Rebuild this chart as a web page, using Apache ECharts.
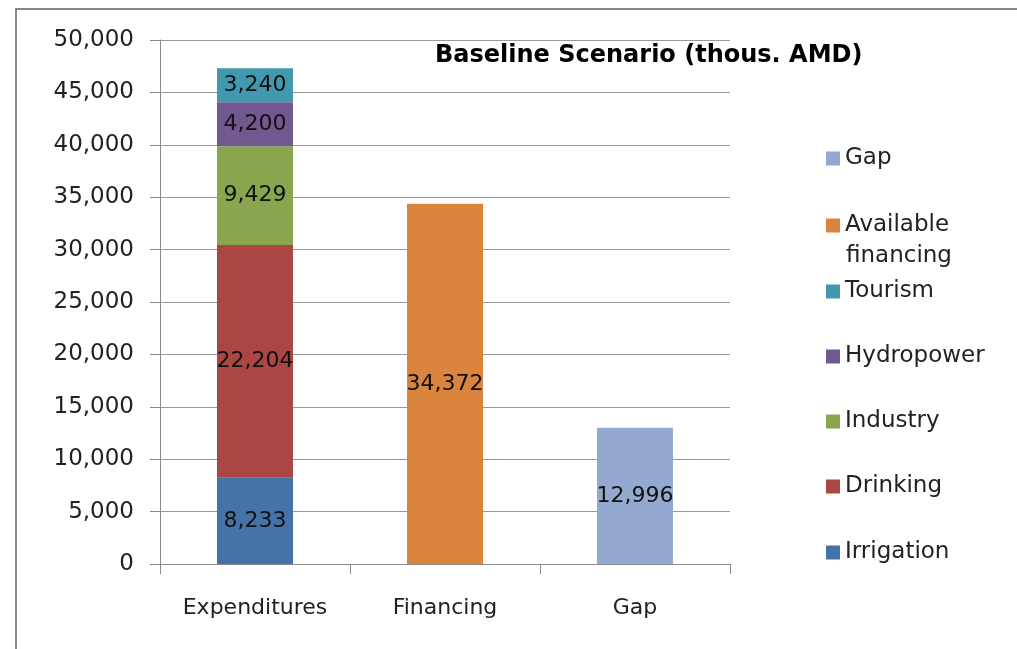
<!DOCTYPE html>
<html>
<head>
<meta charset="utf-8">
<script src="https://cdn.jsdelivr.net/npm/echarts@6/dist/echarts.min.js"></script>
<style>
  html, body { margin: 0; padding: 0; background: #fff; }
  #chart { width: 1017px; height: 649px; }
</style>
</head>
<body>
<div id="chart"></div>
<script>
const categories = ['Expenditures', 'Financing', 'Gap']
const irrigation = [8233, null, null]
const drinking = [22204, null, null]
const industry = [9429, null, null]
const hydropower = [4200, null, null]
const tourism = [3240, null, null]
const availableFinancing = [null, 34372, null]
const gap = [null, null, 12996]

const font = 'DejaVu Sans'
const chart = echarts.init(document.getElementById('chart'))

function seg(name, data, color) {
  return {
    name: name,
    type: 'bar',
    stack: 'Total',
    barWidth: '40%',
    itemStyle: { color: color },
    label: {
      show: true,
      position: 'inside',
      color: '#111',
      fontFamily: font,
      fontSize: 22,
      formatter: p => p.value == null ? '' : p.value.toLocaleString('en-US')
    },
    data: data
  }
}

// one legend per item so the spacing follows the original
const legendItems = [
  ['Gap', 142],
  ['Available financing', 209],
  ['Tourism', 275],
  ['Hydropower', 340],
  ['Industry', 405],
  ['Drinking', 470],
  ['Irrigation', 536]
]

const option = {
  animation: false,
  title: {
    text: 'Baseline Scenario (thous. AMD)',
    left: 430,
    top: 39,
    textStyle: { fontFamily: font, fontSize: 24, fontWeight: 'bold', color: '#000' }
  },
  graphic: [{
    type: 'rect',
    shape: { x: 16, y: 9, width: 1100, height: 700 },
    style: { fill: null, stroke: '#868686', lineWidth: 2 }
  }, {
    type: 'text',
    left: 846,
    top: 245,
    style: { text: 'financing', font: '23px "DejaVu Sans"', fill: '#222' }
  }],
  legend: legendItems.map(([n, top]) => ({
    data: [n],
    left: 821,
    top: top,
    itemWidth: 14,
    itemHeight: 14,
    icon: 'rect',
    formatter: s => s === 'Available financing' ? 'Available' : s,
    textStyle: { fontFamily: font, fontSize: 23, color: '#222' }
  })),
  grid: { left: 160, right: 287, top: 40, bottom: 85 },
  xAxis: {
    type: 'category',
    data: categories,
    axisLine: { lineStyle: { color: '#888' } },
    axisTick: { show: true, length: 10, lineStyle: { color: '#888' } },
    axisLabel: { fontFamily: font, fontSize: 22, color: '#222', margin: 33 }
  },
  yAxis: {
    type: 'value',
    min: 0,
    max: 50000,
    interval: 5000,
    axisLine: { show: true, lineStyle: { color: '#888' } },
    axisTick: { show: true, length: 10, lineStyle: { color: '#888' } },
    splitLine: { lineStyle: { color: '#999' } },
    axisLabel: {
      fontFamily: font, fontSize: 23, color: '#222', margin: 26,
      formatter: v => v.toLocaleString('en-US')
    }
  },
  series: [
    seg('Irrigation', irrigation, '#4572A7'),
    seg('Drinking', drinking, '#AA4643'),
    seg('Industry', industry, '#89A54E'),
    seg('Hydropower', hydropower, '#71588F'),
    seg('Tourism', tourism, '#4198AF'),
    seg('Available financing', availableFinancing, '#DB843D'),
    seg('Gap', gap, '#93A9CF')
  ]
}

chart.setOption(option)
</script>
</body>
</html>
